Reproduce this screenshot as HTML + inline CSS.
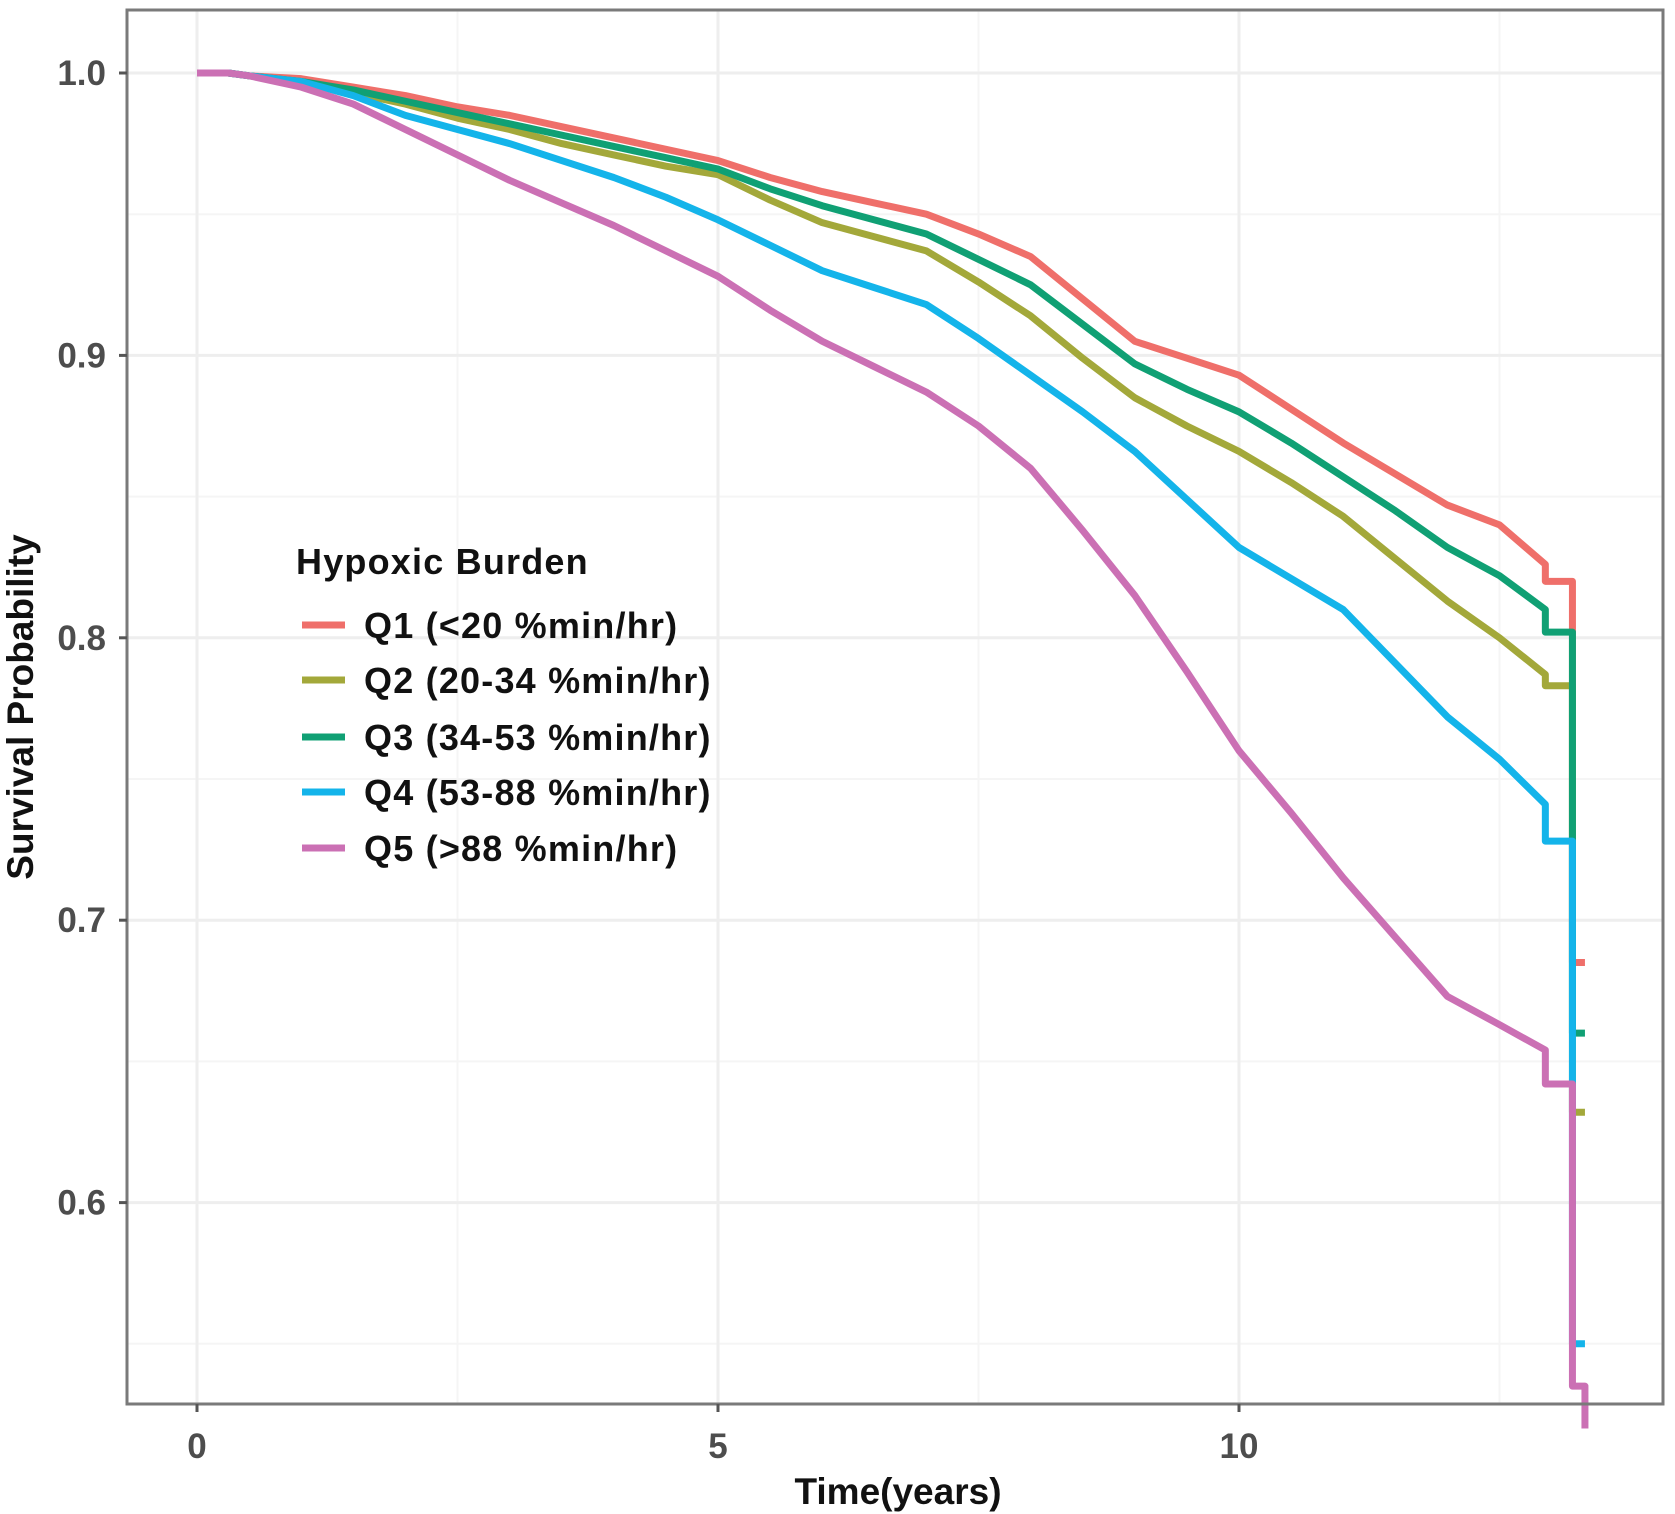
<!DOCTYPE html>
<html><head><meta charset="utf-8"><style>
body{margin:0;background:#fff}
svg{display:block;font-family:"Liberation Sans",Arial,sans-serif}
</style></head><body>
<svg id="chart" width="1675" height="1514">
<rect x="0" y="0" width="1675" height="1514" fill="#fff"/>
<g id="grid"></g>
<g id="series"></g>
<rect x="127" y="10" width="1536" height="1394" fill="none" stroke="#7a7a7a" stroke-width="3"/>
<g id="axes"></g>
<text x="898" y="1504" text-anchor="middle" font-size="37" font-weight="bold" fill="#111">Time(years)</text>
<text transform="translate(33,707) rotate(-90)" text-anchor="middle" font-size="37" font-weight="bold" fill="#111">Survival Probability</text>
<g id="legend">
<text x="296" y="574" font-size="36" font-weight="bold" letter-spacing="1.2" fill="#111">Hypoxic Burden</text>
</g>
</svg>
<script>
const times = [0,0.3,0.5,1,1.5,2,2.5,3,3.5,4,4.5,5,5.5,6,6.5,7,7.5,8,8.5,9,9.5,10,10.5,11,11.5,12,12.5,12.94,13.2];
const q1 = [1,1,0.999,0.998,0.995,0.992,0.988,0.985,0.981,0.977,0.973,0.969,0.963,0.958,0.954,0.950,0.943,0.935,0.920,0.905,0.899,0.893,0.881,0.869,0.858,0.847,0.840,0.826,0.820];
const q2 = [1,1,0.999,0.997,0.993,0.989,0.984,0.980,0.975,0.971,0.967,0.964,0.955,0.947,0.942,0.937,0.926,0.914,0.899,0.885,0.875,0.866,0.855,0.843,0.828,0.813,0.800,0.787,0.783];
const q3 = [1,1,0.999,0.997,0.994,0.990,0.986,0.982,0.978,0.974,0.970,0.966,0.959,0.953,0.948,0.943,0.934,0.925,0.911,0.897,0.888,0.880,0.869,0.857,0.845,0.832,0.822,0.810,0.802];
const q4 = [1,1,0.999,0.997,0.992,0.985,0.980,0.975,0.969,0.963,0.956,0.948,0.939,0.930,0.924,0.918,0.906,0.893,0.880,0.866,0.849,0.832,0.821,0.810,0.791,0.772,0.757,0.741,0.728];
const q5 = [1,1,0.999,0.995,0.989,0.980,0.971,0.962,0.954,0.946,0.937,0.928,0.916,0.905,0.896,0.887,0.875,0.860,0.838,0.815,0.788,0.760,0.738,0.715,0.694,0.673,0.663,0.654,0.642];
const endTimes = [13.2,13.32];
const endVals = [[0.685,0.685],[0.632,0.632],[0.660,0.660],[0.550,0.550],[0.535,0.52]];
const seriesNames = ["Q1 (<20 %min/hr)","Q2 (20-34 %min/hr)","Q3 (34-53 %min/hr)","Q4 (53-88 %min/hr)","Q5 (>88 %min/hr)"];
const colors = ["#EF6F6A","#A3A83A","#10A074","#14B4EA","#CB70B4"];
const xTicks = [0,5,10];
const yTicks = [0.6,0.7,0.8,0.9,1.0];
const yMinor = [0.55,0.65,0.75,0.85,0.95];
const xMinor = [2.5,7.5,12.5];

const NS = "http://www.w3.org/2000/svg";
const X = t => 197 + t * 104.2;
const Y = v => 73 + (1 - v) * 2824;
function mk(tag, attrs, parent){const e=document.createElementNS(NS,tag);for(const k in attrs)e.setAttribute(k,attrs[k]);parent.appendChild(e);return e;}
const grid=document.getElementById('grid'), axes=document.getElementById('axes'), ser=document.getElementById('series'), leg=document.getElementById('legend');

yMinor.forEach(v=>{const l=mk('line',{x1:128,x2:1662,y1:Y(v),y2:Y(v),stroke:'#f5f5f5','stroke-width':2},grid);

});
xMinor.forEach(t=>{const l=mk('line',{x1:X(t),x2:X(t),y1:11,y2:1403,stroke:'#f5f5f5','stroke-width':2},grid);

});
yTicks.forEach(v=>{const l=mk('line',{x1:128,x2:1662,y1:Y(v),y2:Y(v),stroke:'#eeeeee','stroke-width':3},grid);


const tk=mk('line',{x1:119,x2:127,y1:Y(v),y2:Y(v),stroke:'#555','stroke-width':3},axes);


const tx=mk('text',{x:106,y:Y(v)+12,'text-anchor':'end','font-size':35,'font-weight':'bold',fill:'#4d4d4d'},axes);
tx.textContent=v.toFixed(1);

});
xTicks.forEach(t=>{const l=mk('line',{x1:X(t),x2:X(t),y1:11,y2:1403,stroke:'#eeeeee','stroke-width':3},grid);


const tk=mk('line',{x1:X(t),x2:X(t),y1:1404,y2:1412,stroke:'#555','stroke-width':3},axes);


const tx=mk('text',{x:X(t),y:1458,'text-anchor':'middle','font-size':35,'font-weight':'bold',fill:'#4d4d4d'},axes);
tx.textContent=String(t);

});

const all=[q1,q2,q3,q4,q5];
all.forEach((vals,i)=>{
  let d='M'+X(times[0])+','+Y(vals[0]);
  const n=times.length;
  for(let k=1;k<n-1;k++){d+=' L'+X(times[k])+','+Y(vals[k]);}
  d+=' L'+X(times[n-2])+','+Y(vals[n-1])+' H'+X(times[n-1]);
  d+=' V'+Y(endVals[i][0])+' H'+X(endTimes[1])+' V'+Y(endVals[i][1]);
  const p=mk('path',{d:d,fill:'none',stroke:colors[i],'stroke-width':7,'stroke-linejoin':'round'},ser);
  
  
});
const legY=[625,680,737,792,848];
seriesNames.forEach((n,i)=>{
  const l=mk('line',{x1:302,x2:345,y1:legY[i],y2:legY[i],stroke:colors[i],'stroke-width':7},leg);
  
  
  const t=mk('text',{x:364,y:legY[i]+13,'font-size':36,'font-weight':'bold','letter-spacing':1.2,fill:'#111'},leg);
  t.textContent=n;
  
  
});
</script>
</body></html>
